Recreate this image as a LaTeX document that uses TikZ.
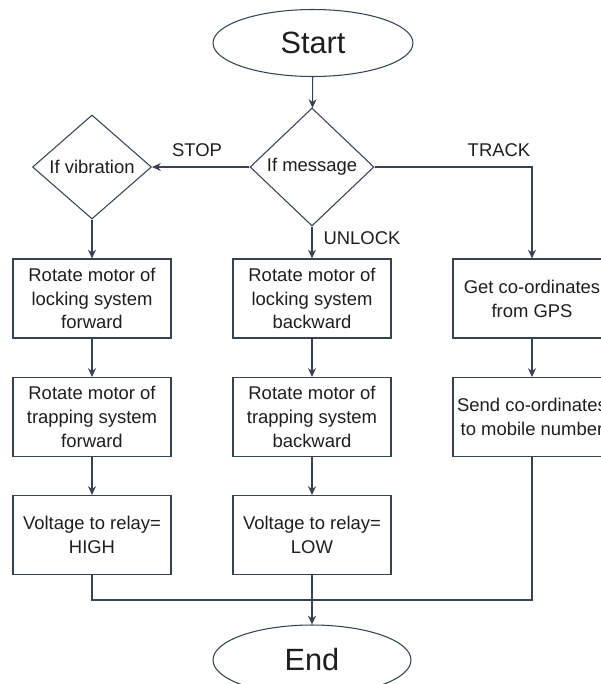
\documentclass[tikz,border=0pt]{standalone}
\usepackage{fontspec}
\setmainfont{Liberation Sans}
\usetikzlibrary{shapes.geometric,arrows.meta}

\definecolor{linecol}{RGB}{55,66,80}
\definecolor{textcol}{RGB}{30,30,30}

\begin{document}
\begin{tikzpicture}[x=0.02cm, y=-0.02cm]

    \tikzset{
        terminal/.style={
            draw=linecol,
            ellipse,
            line width=0.6pt,
            minimum width=4.0cm,
            minimum height=1.34cm,
            inner sep=0pt,
            text=textcol,
            font=\fontsize{17.5}{21}\selectfont
        },
        decision/.style={
            draw=linecol,
            diamond,
            aspect=1,
            line width=0.6pt,
            inner sep=0pt,
            text=textcol,
            font=\fontsize{10.5}{13.6}\selectfont
        },
        process/.style={
            draw=linecol,
            rectangle,
            line width=0.6pt,
            minimum width=3.16cm,
            minimum height=1.58cm,
            inner sep=0pt,
            align=center,
            text=textcol,
            font=\fontsize{10.5}{13.6}\selectfont
        },
        lbl/.style={
            text=textcol,
            inner sep=0pt,
            font=\fontsize{10.5}{13.6}\selectfont
        },
        line/.style={draw=linecol, line width=0.6pt},
        arrow/.style={line, -{Stealth[length=5pt,width=4.5pt]}}
    }

    \clip (0,0) rectangle (601,684);

    % start and decisions
    \node[terminal] (start) at (313,43) {Start};
    \node[decision, minimum width=2.48cm, minimum height=2.36cm] (msg) at (312,167) {If message};
    \node[decision, minimum width=2.38cm, minimum height=2.08cm] (vib) at (92,167) {If vibration};

    % left column
    \node[process] (lockfw) at (92,298.5) {Rotate motor of\\locking system\\forward};
    \node[process] (trapfw) at (92,417) {Rotate motor of\\trapping system\\forward};
    \node[process] (high) at (92,535) {Voltage to relay=\\HIGH};

    % middle column
    \node[process] (lockbw) at (312,298.5) {Rotate motor of\\locking system\\backward};
    \node[process] (trapbw) at (312,417) {Rotate motor of\\trapping system\\backward};
    \node[process] (low) at (312,535) {Voltage to relay=\\LOW};

    % right column
    \node[process] (gps) at (532,298.5) {Get co-ordinates\\from GPS};
    \node[process] (send) at (532,417) {Send co-ordinates\\to mobile number};

    % end
    \node[terminal, minimum width=3.96cm, minimum height=1.4cm] (stop) at (312,660) {End};
    \coordinate (join) at (312,600);

    % connectors
    \draw[arrow] (start) -- (msg);
    \draw[arrow] (msg.west) -- (vib.east);
    \draw[arrow] (msg.east) -| (gps.north);
    \draw[arrow] (msg.south) -- (lockbw.north);
    \draw[arrow] (vib.south) -- (lockfw.north);
    \draw[arrow] (lockfw) -- (trapfw);
    \draw[arrow] (trapfw) -- (high);
    \draw[arrow] (lockbw) -- (trapbw);
    \draw[arrow] (trapbw) -- (low);
    \draw[arrow] (gps) -- (send);
    \draw[line] (high.south) |- (join);
    \draw[line] (send.south) |- (join);
    \draw[arrow] (low) -- (stop);

    % branch labels
    \node[lbl] (stoplbl) at (197,150) {STOP};
    \node[lbl] (tracklbl) at (499,150) {TRACK};
    \node[lbl] (unlocklbl) at (362,238) {UNLOCK};

\end{tikzpicture}
\end{document}
